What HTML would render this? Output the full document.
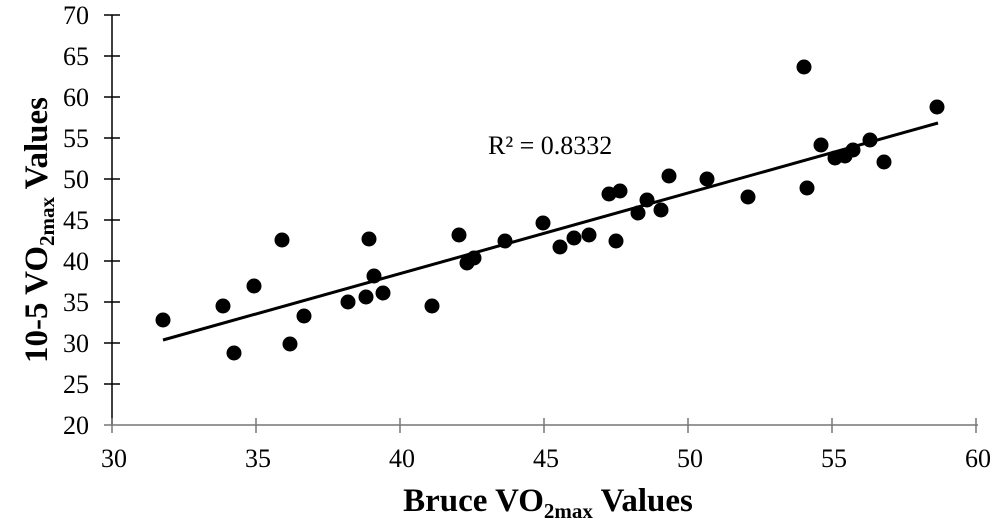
<!DOCTYPE html>
<html><head><style>body{margin:0;background:#fff}</style></head><body>
<svg width="1000" height="520" xmlns="http://www.w3.org/2000/svg" font-family="Liberation Serif, serif">
<rect width="1000" height="520" fill="#fff"/>
<line x1="112" y1="15" x2="112" y2="425" stroke="#000" stroke-width="1.5"/>
<g stroke="#000" stroke-width="1.5">
<line x1="104" y1="15" x2="120" y2="15"/><line x1="104" y1="56" x2="120" y2="56"/><line x1="104" y1="97" x2="120" y2="97"/><line x1="104" y1="138" x2="120" y2="138"/><line x1="104" y1="179" x2="120" y2="179"/><line x1="104" y1="220" x2="120" y2="220"/><line x1="104" y1="261" x2="120" y2="261"/><line x1="104" y1="302" x2="120" y2="302"/><line x1="104" y1="343" x2="120" y2="343"/><line x1="104" y1="384" x2="120" y2="384"/></g>
<line x1="104" y1="425" x2="978" y2="425" stroke="#777" stroke-width="1.5"/>
<g stroke="#777" stroke-width="1.5">
<line x1="112" y1="418" x2="112" y2="433"/><line x1="256" y1="418" x2="256" y2="433"/><line x1="400" y1="418" x2="400" y2="433"/><line x1="544" y1="418" x2="544" y2="433"/><line x1="688" y1="418" x2="688" y2="433"/><line x1="832" y1="418" x2="832" y2="433"/><line x1="976" y1="418" x2="976" y2="433"/></g>
<g font-size="26" text-anchor="end" fill="#000">
<text x="89" y="24">70</text><text x="89" y="65">65</text><text x="89" y="106">60</text><text x="89" y="147">55</text><text x="89" y="188">50</text><text x="89" y="229">45</text><text x="89" y="270">40</text><text x="89" y="311">35</text><text x="89" y="352">30</text><text x="89" y="393">25</text><text x="89" y="434">20</text></g>
<g font-size="26" text-anchor="middle" fill="#000">
<text x="114" y="467">30</text><text x="258" y="467">35</text><text x="402" y="467">40</text><text x="546" y="467">45</text><text x="690" y="467">50</text><text x="834" y="467">55</text><text x="978" y="467">60</text></g>
<text x="548" y="511" font-size="33" font-weight="bold" text-anchor="middle">Bruce VO<tspan font-size="21" dy="7">2max</tspan><tspan dy="-7"> Values</tspan></text>
<text transform="translate(47,230) rotate(-90)" font-size="33" font-weight="bold" text-anchor="middle">10-5 VO<tspan font-size="21" dy="7">2max</tspan><tspan dy="-7"> Values</tspan></text>
<line x1="163" y1="340" x2="938" y2="123" stroke="#000" stroke-width="3"/>
<text x="488" y="154" font-size="26">R² = 0.8332</text>
<g fill="#000">
<circle cx="163" cy="320" r="7.5"/><circle cx="223" cy="306" r="7.5"/><circle cx="234" cy="353" r="7.5"/><circle cx="254" cy="286" r="7.5"/><circle cx="282" cy="240" r="7.5"/><circle cx="290" cy="344" r="7.5"/><circle cx="304" cy="316" r="7.5"/><circle cx="348" cy="302" r="7.5"/><circle cx="366" cy="297" r="7.5"/><circle cx="369" cy="239" r="7.5"/><circle cx="374" cy="276" r="7.5"/><circle cx="383" cy="293" r="7.5"/><circle cx="432" cy="306" r="7.5"/><circle cx="459" cy="235" r="7.5"/><circle cx="467" cy="263" r="7.5"/><circle cx="474" cy="258" r="7.5"/><circle cx="505" cy="241" r="7.5"/><circle cx="543" cy="223" r="7.5"/><circle cx="560" cy="247" r="7.5"/><circle cx="574" cy="238" r="7.5"/><circle cx="589" cy="235" r="7.5"/><circle cx="609" cy="194" r="7.5"/><circle cx="616" cy="241" r="7.5"/><circle cx="620" cy="191" r="7.5"/><circle cx="638" cy="213" r="7.5"/><circle cx="647" cy="200" r="7.5"/><circle cx="661" cy="210" r="7.5"/><circle cx="669" cy="176" r="7.5"/><circle cx="707" cy="179" r="7.5"/><circle cx="748" cy="197" r="7.5"/><circle cx="804" cy="67" r="7.5"/><circle cx="807" cy="188" r="7.5"/><circle cx="821" cy="145" r="7.5"/><circle cx="835" cy="158" r="7.5"/><circle cx="845" cy="156" r="7.5"/><circle cx="853" cy="150" r="7.5"/><circle cx="870" cy="140" r="7.5"/><circle cx="884" cy="162" r="7.5"/><circle cx="937" cy="107" r="7.5"/></g>
</svg>
</body></html>
